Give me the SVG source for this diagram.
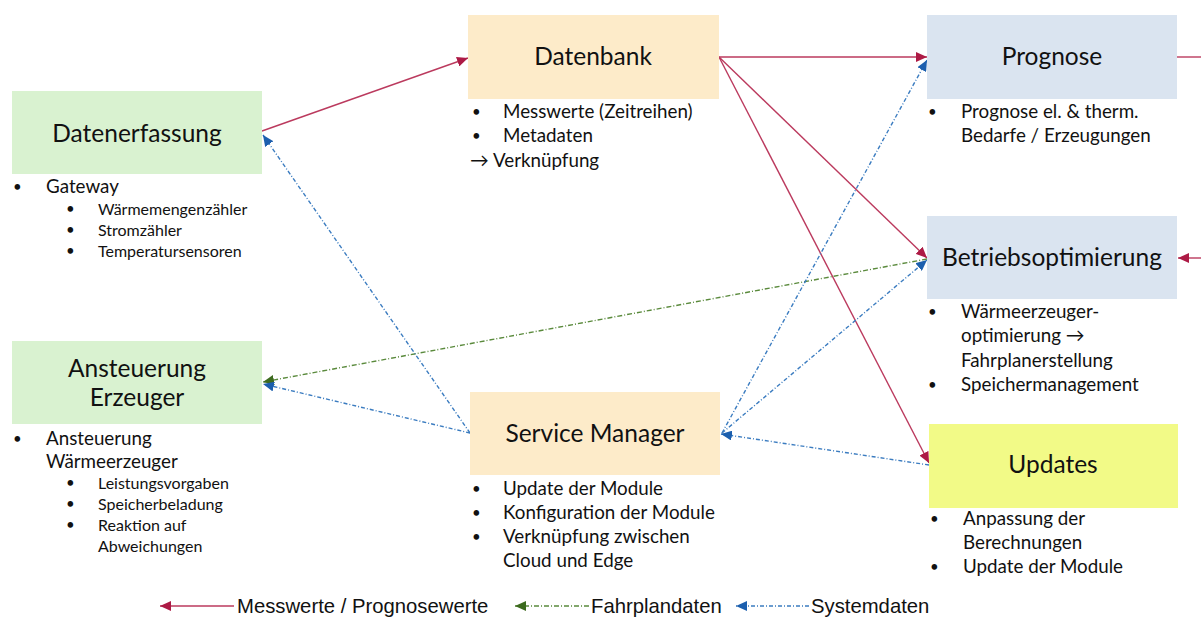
<svg xmlns="http://www.w3.org/2000/svg" width="1201" height="617" viewBox="0 0 1201 617">
  <style>
    .box-green { fill: #d9f2d0; }
    .box-orange { fill: #fdebc9; }
    .box-blue { fill: #dae4f0; }
    .box-yellow { fill: #f2fa87; }
    .title { font-family: Lato, "Open Sans", sans-serif; font-size: 24.5px; fill: #111; text-anchor: middle; }
    .item { font-family: Lato, "Open Sans", sans-serif; font-size: 18.8px; fill: #111; }
    .sub { font-family: Lato, "Open Sans", sans-serif; font-size: 16px; fill: #111; }
    .dot { font-family: Lato, "Open Sans", sans-serif; font-size: 15px; fill: #111; }
    .legend { font-family: "Liberation Sans", Arial, sans-serif; font-size: 20.3px; fill: #111; }
    .red { stroke: #bb3a5e; stroke-width: 1.4; fill: none; }
    .blue { stroke: #3b7cc0; stroke-width: 1.4; fill: none; stroke-dasharray: 4 2 1 2; }
    .green { stroke: #5a8a3c; stroke-width: 1.4; fill: none; stroke-dasharray: 5 2 1 2; }
  </style>
  <defs>
    <marker id="ah-red" markerUnits="userSpaceOnUse" markerWidth="12" markerHeight="10" refX="11" refY="5" orient="auto">
      <path d="M0,0 L11,5 L0,10 z" fill="#ad1a45"/>
    </marker>
    <marker id="ah-blue" markerUnits="userSpaceOnUse" markerWidth="12" markerHeight="10" refX="11" refY="5" orient="auto">
      <path d="M0,0 L11,5 L0,10 z" fill="#1c5fae"/>
    </marker>
    <marker id="ah-green" markerUnits="userSpaceOnUse" markerWidth="12" markerHeight="10" refX="11" refY="5" orient="auto">
      <path d="M0,0 L11,5 L0,10 z" fill="#3d6b1f"/>
    </marker>
  </defs>

  <!-- connectors -->
  <g id="connectors">
    <!-- measured / forecast values -->
    <line class="red" x1="262" y1="131" x2="468" y2="58" marker-end="url(#ah-red)"/>
    <line class="red" x1="719" y1="57" x2="927" y2="57" marker-end="url(#ah-red)"/>
    <line class="red" x1="719" y1="57" x2="927" y2="258" marker-end="url(#ah-red)"/>
    <line class="red" x1="719" y1="57" x2="929" y2="463" marker-end="url(#ah-red)"/>
    <line class="red" x1="1177" y1="57" x2="1201" y2="57"/>
    <line class="red" x1="1201" y1="258" x2="1178" y2="258" marker-end="url(#ah-red)"/>
    <!-- schedule data -->
    <line class="green" x1="927" y1="259" x2="263" y2="382" marker-end="url(#ah-green)"/>
    <!-- system data -->
    <line class="blue" x1="470" y1="433" x2="263" y2="135" marker-end="url(#ah-blue)"/>
    <line class="blue" x1="470" y1="433" x2="263" y2="384" marker-end="url(#ah-blue)"/>
    <line class="blue" x1="722" y1="433" x2="927" y2="60" marker-end="url(#ah-blue)"/>
    <line class="blue" x1="722" y1="433" x2="927" y2="260" marker-end="url(#ah-blue)"/>
    <line class="blue" x1="929" y1="465" x2="721" y2="434" marker-end="url(#ah-blue)"/>
  </g>

  <g id="datenerfassung">
    <rect class="box-green" x="12" y="91" width="250" height="83"/>
    <text class="title" x="137" y="142">Datenerfassung</text>
    <text class="dot" x="13" y="192">•</text>
    <text class="item" x="46" y="193">Gateway</text>
    <text class="dot" x="66" y="214">•</text>
    <text class="sub" x="98" y="215">Wärmemengenzähler</text>
    <text class="dot" x="66" y="235">•</text>
    <text class="sub" x="98" y="236">Stromzähler</text>
    <text class="dot" x="66" y="256">•</text>
    <text class="sub" x="98" y="257">Temperatursensoren</text>
  </g>

  <g id="ansteuerung-erzeuger">
    <rect class="box-green" x="12" y="341" width="250" height="83"/>
    <text class="title" x="137" y="377">Ansteuerung</text>
    <text class="title" x="137" y="406">Erzeuger</text>
    <text class="dot" x="13" y="444">•</text>
    <text class="item" x="46" y="445">Ansteuerung</text>
    <text class="item" x="46" y="468">Wärmeerzeuger</text>
    <text class="dot" x="66" y="488">•</text>
    <text class="sub" x="98" y="489">Leistungsvorgaben</text>
    <text class="dot" x="66" y="509">•</text>
    <text class="sub" x="98" y="510">Speicherbeladung</text>
    <text class="dot" x="66" y="530">•</text>
    <text class="sub" x="98" y="531">Reaktion auf</text>
    <text class="sub" x="98" y="552">Abweichungen</text>
  </g>

  <g id="datenbank">
    <rect class="box-orange" x="468" y="15" width="251" height="84"/>
    <text class="title" x="593" y="65">Datenbank</text>
    <text class="dot" x="472" y="117">•</text>
    <text class="item" x="503" y="118">Messwerte (Zeitreihen)</text>
    <text class="dot" x="472" y="141">•</text>
    <text class="item" x="503" y="142">Metadaten</text>
    <text class="item" x="470" y="167">→ Verknüpfung</text>
  </g>

  <g id="service-manager">
    <rect class="box-orange" x="470" y="392" width="250" height="83"/>
    <text class="title" x="595" y="442">Service Manager</text>
    <text class="dot" x="472" y="494">•</text>
    <text class="item" x="503" y="495">Update der Module</text>
    <text class="dot" x="472" y="518">•</text>
    <text class="item" x="503" y="519">Konfiguration der Module</text>
    <text class="dot" x="472" y="542">•</text>
    <text class="item" x="503" y="543">Verknüpfung zwischen</text>
    <text class="item" x="503" y="567">Cloud und Edge</text>
  </g>

  <g id="prognose">
    <rect class="box-blue" x="927" y="15" width="250" height="84"/>
    <text class="title" x="1052" y="65">Prognose</text>
    <text class="dot" x="928" y="117">•</text>
    <text class="item" x="961" y="118">Prognose el. &amp; therm.</text>
    <text class="item" x="961" y="142">Bedarfe / Erzeugungen</text>
  </g>

  <g id="betriebsoptimierung">
    <rect class="box-blue" x="927" y="216" width="250" height="83"/>
    <text class="title" x="1052" y="266">Betriebsoptimierung</text>
    <text class="dot" x="928" y="317">•</text>
    <text class="item" x="961" y="318">Wärmeerzeuger-</text>
    <text class="item" x="961" y="342">optimierung →</text>
    <text class="item" x="961" y="367">Fahrplanerstellung</text>
    <text class="dot" x="928" y="390">•</text>
    <text class="item" x="961" y="391">Speichermanagement</text>
  </g>

  <g id="updates">
    <rect class="box-yellow" x="929" y="424" width="249" height="84"/>
    <text class="title" x="1053" y="473">Updates</text>
    <text class="dot" x="930" y="524">•</text>
    <text class="item" x="963" y="525">Anpassung der</text>
    <text class="item" x="963" y="549">Berechnungen</text>
    <text class="dot" x="930" y="572">•</text>
    <text class="item" x="963" y="573">Update der Module</text>
  </g>

  <g id="legend">
    <line class="red" x1="234" y1="606" x2="160" y2="606" marker-end="url(#ah-red)"/>
    <text class="legend" x="237" y="613">Messwerte / Prognosewerte</text>
    <line class="green" x1="589" y1="606" x2="515" y2="606" marker-end="url(#ah-green)"/>
    <text class="legend" x="591" y="613">Fahrplandaten</text>
    <line class="blue" x1="809" y1="606" x2="736" y2="606" marker-end="url(#ah-blue)"/>
    <text class="legend" x="811" y="613">Systemdaten</text>
  </g>
</svg>
